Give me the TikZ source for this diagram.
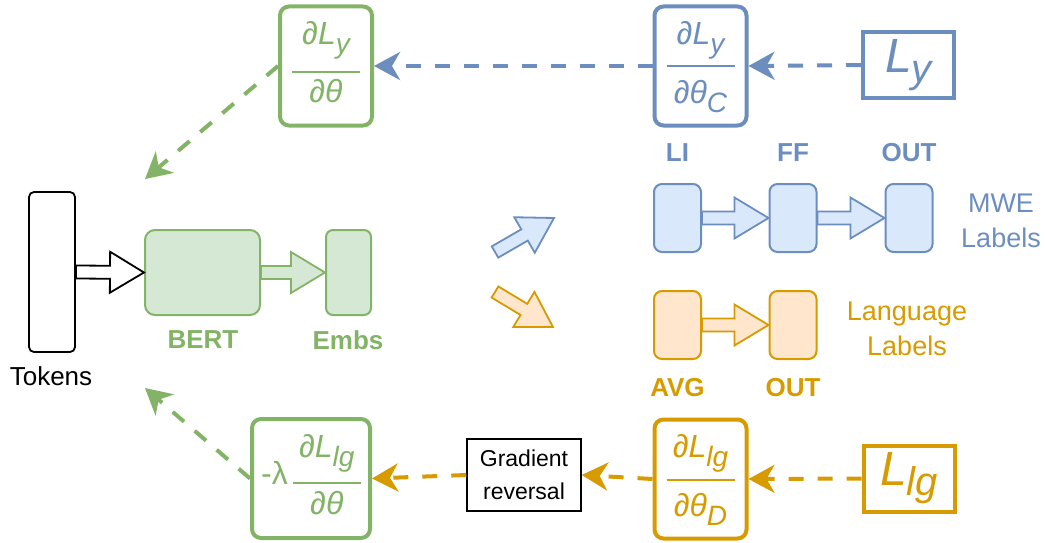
\documentclass[tikz,border=0pt]{standalone}
\usepackage{fontspec}
\setmainfont{Liberation Sans}
\usetikzlibrary{arrows.meta,calc}
\definecolor{gS}{HTML}{82B366}\definecolor{gF}{HTML}{D5E8D4}
\definecolor{bS}{HTML}{6C8EBF}\definecolor{bF}{HTML}{DAE8FC}
\definecolor{oS}{HTML}{D79B00}\definecolor{oF}{HTML}{FFE6CC}
\setlength{\arrayrulewidth}{1.9pt}
\newcommand\sbs[1]{\raisebox{-9pt}[0pt][0pt]{\fontsize{28}{28}\selectfont\itshape #1}}
\newcommand\sbb[1]{\raisebox{-10pt}{\fontsize{40}{40}\selectfont\itshape #1}}
% #3: numerator baseline to bar, #4: bar to denominator baseline
\newcommand\pfrac[4]{\begin{tabular}{@{}c@{}}\makebox[68pt]{\itshape #1}\\[\dimexpr#3pt-11.5pt\relax]\hline\rule{0pt}{#4pt}\makebox[68pt]{\itshape #2}\end{tabular}}
\newcommand\blockarrow[3]{%
  \draw[#1] let \p1=#2, \p2=#3, \n1={veclen(\x2-\x1,\y2-\y1)}, \n2={atan2(\y2-\y1,\x2-\x1)} in
  [shift={(\p1)}, rotate=\n2] (0pt,-6.5pt) -- ({\n1-34pt},-6.5pt) -- ({\n1-34pt},-20.5pt) -- (\n1,0pt)
  -- ({\n1-34pt},20.5pt) -- ({\n1-34pt},6.5pt) -- (0pt,6.5pt) -- cycle;}
\tikzset{
  fracbox/.style={draw, line width=4pt, rounded corners=9pt, inner sep=0pt, minimum width=92pt, minimum height=119pt,
    font=\fontsize{32}{38.4}\selectfont},
  lossbox/.style={draw, line width=4pt, inner sep=0pt, minimum width=91pt, minimum height=66pt,
    font=\fontsize{48}{50}\selectfont\itshape},
  smallbox/.style={draw, line width=2pt, rounded corners=8pt, minimum width=47pt, minimum height=68pt, inner sep=0pt},
  lab/.style={font=\fontsize{26}{30}\selectfont, inner sep=0pt},
  blab/.style={font=\fontsize{26}{30}\selectfont\bfseries, inner sep=0pt},
  sidelab/.style={font=\fontsize{27}{35}\selectfont, align=center, inner sep=0pt},
  dashline/.style={line width=4pt, dash pattern=on 15pt off 14pt, -{Stealth[length=26pt,width=28pt,inset=8pt]}},
  blockline/.style={line width=1.8pt},
  green/.style={draw=gS, fill=gF},
  blue/.style={draw=bS, fill=bF},
  orange/.style={draw=oS, fill=oF},
}
\begin{document}
\begin{tikzpicture}[x=1pt,y=-1pt]
\useasboundingbox (0,0) rectangle (1045,543);
% left part
\node[draw, line width=1.8pt, rounded corners=5pt, minimum width=46pt, minimum height=160pt] (tok) at (52,272) {};
\node[lab] (tokl) at (51,376) {Tokens};
\node[green, line width=2pt, rounded corners=10pt, minimum width=115pt, minimum height=85pt] (bert) at (202.5,272.5) {};
\node[green, line width=2pt, rounded corners=7pt, minimum width=45pt, minimum height=85pt] (embs) at (348.5,272.5) {};
\node[blab, text=gS] (bertl) at (203,340) {BERT};
\node[blab, text=gS] (embsl) at (348,340) {Embs};
\blockarrow{blockline, draw=black, fill=white}{(tok.east)}{(bert.west)}
\blockarrow{blockline, draw=gS, fill=gF}{(bert.east)}{(embs.west)}
% top row
\node[fracbox, draw=gS, text=gS] (dly) at (326,66) {\pfrac{∂L\sbs{y}}{∂θ}{26}{30}};
\node[fracbox, draw=bS, text=bS] (dlyc) at (700.5,66) {\pfrac{∂L\sbs{y}}{∂θ\sbs{C}}{21}{36}};
\node[lossbox, draw=bS, text=bS] (ly) at (908.5,65) {L\sbb{y}};
\draw[dashline, bS] (ly.west) -- (dlyc.east);
\draw[dashline, bS] (dlyc.west) -- (dly.east);
\coordinate (gtop) at (145,179);
\draw[dashline, gS] (dly.west) -- (gtop);
% classifier heads
\node[smallbox, blue] (li) at (677.5,218) {};
\node[smallbox, blue] (ff) at (793,218) {};
\node[smallbox, blue] (outb) at (909,218) {};
\node[blab, text=bS] (lil) at (677.5,153) {LI};
\node[blab, text=bS] (ffl) at (793,153) {FF};
\node[blab, text=bS] (outbl) at (909,153) {OUT};
\blockarrow{blockline, draw=bS, fill=bF}{(li.east)}{(ff.west)}
\blockarrow{blockline, draw=bS, fill=bF}{(ff.east)}{(outb.west)}
\node[sidelab, text=bS] (mwe) at (1001,221) {MWE\\Labels};
\node[smallbox, orange] (avg) at (677.5,325) {};
\node[smallbox, orange] (outo) at (793,325) {};
\node[blab, text=oS] (avgl) at (677.5,388) {AVG};
\node[blab, text=oS] (outol) at (793,388) {OUT};
\blockarrow{blockline, draw=oS, fill=oF}{(avg.east)}{(outo.west)}
\node[sidelab, text=oS] (lang) at (907,329) {Language\\Labels};
% diagonal arrows
\coordinate (bt1) at (495,252);
\coordinate (bt2) at (554,218);
\coordinate (ot1) at (495,292);
\coordinate (ot2) at (553,327);
\blockarrow{blockline, draw=bS, fill=bF}{(bt1)}{(bt2)}
\blockarrow{blockline, draw=oS, fill=oF}{(ot1)}{(ot2)}
% bottom row
\node[fracbox, draw=gS, text=gS, minimum width=118pt] (neg) at (311,478.5) {-λ\hspace{5pt}\pfrac{∂L\sbs{lg}}{∂θ}{24}{31}};
\node[draw, line width=1.5pt, minimum width=114pt, minimum height=72pt, inner sep=0pt, align=center,
  font=\fontsize{23}{33}\selectfont] (gr) at (524,475) {Gradient\\reversal};
\node[fracbox, draw=oS, text=oS] (dlgd) at (700.5,479) {\pfrac{∂L\sbs{lg}}{∂θ\sbs{D}}{22}{35}};
\node[lossbox, draw=oS, text=oS] (llg) at (909,478.5) {L\sbb{lg}};
\draw[dashline, oS] (llg.west) -- (dlgd.east);
\draw[dashline, oS] (dlgd.west) -- (gr.east);
\draw[dashline, oS] (gr.west) -- (neg.east);
\coordinate (gbot) at (145,388);
\draw[dashline, gS] (neg.west) -- (gbot);
\end{tikzpicture}
\end{document}
